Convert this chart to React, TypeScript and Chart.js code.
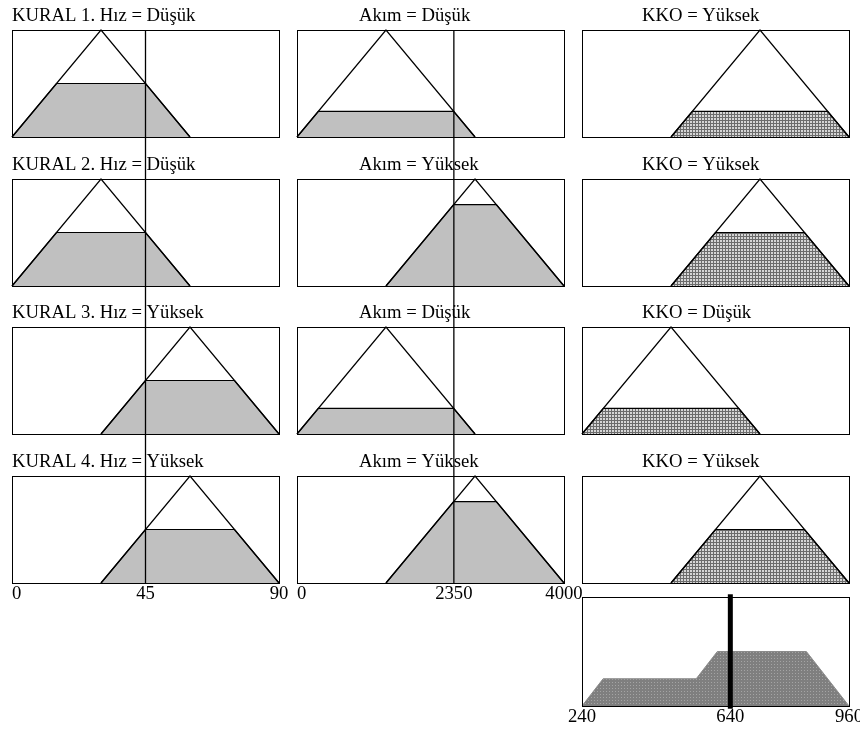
import React, { useEffect, useRef } from 'react';
import { Chart, registerables } from 'chart.js';

Chart.register(...registerables);

// ---------------- data ----------------
const hizTicks = [0, 45, 90];
const akimTicks = [0, 2350, 4000];
const kkoTicks = [240, 640, 960];

const hizRange = [0, 90];
const akimRange = [0, 4000];
const kkoRange = [240, 960];

const hizDusuk = [0, 30, 60];
const hizYuksek = [30, 60, 90];
const akimDusuk = [0, 1333, 2667];
const akimYuksek = [1333, 2667, 4000];
const kkoDusuk = [240, 480, 720];
const kkoYuksek = [480, 720, 960];

const ruleNames = ['KURAL 1.', 'KURAL 2.', 'KURAL 3.', 'KURAL 4.'];
const ruleHiz = ['Düşük', 'Düşük', 'Yüksek', 'Yüksek'];
const ruleAkim = ['Düşük', 'Yüksek', 'Düşük', 'Yüksek'];
const ruleKko = ['Yüksek', 'Yüksek', 'Düşük', 'Yüksek'];

const hizDegree = [0.5, 0.5, 0.5, 0.5];
const akimDegree = [0.24, 0.76, 0.24, 0.76];
const kkoDegree = [0.24, 0.5, 0.24, 0.5];

const hizInput = 45;
const akimInput = 2350;
const kkoCentroid = 640;

const aggX = [240, 297, 548, 605, 845, 960];
const aggY = [0, 0.25, 0.25, 0.5, 0.5, 0];

// ---------------- layout / style ----------------
const FONT_FAMILY = '"Liberation Serif", "Times New Roman", serif';
const FONT_SIZE = 18.7;
const colLeft = [12, 297, 582];
const colWidth = 267;
const rowTop = [30, 179, 327, 476];
const rowHeight = 107;
const titleDx = [0, 62, 60];
const aggTop = 597;
const aggHeight = 109;

function makePattern(cells: string[][]) {
  const c = document.createElement('canvas');
  c.width = cells[0].length;
  c.height = cells.length;
  const g = c.getContext('2d')!;
  cells.forEach((row, y) =>
    row.forEach((col, x) => {
      g.fillStyle = col;
      g.fillRect(x, y, 1, 1);
    })
  );
  return g.createPattern(c, 'repeat')!;
}

const D = '#6c6c6c';
const L = '#d6d6d6';

function tri(points: number[]) {
  return [
    { x: points[0], y: 0 },
    { x: points[1], y: 1 },
    { x: points[2], y: 0 },
  ];
}

function trap(points: number[], h: number) {
  return [
    { x: points[0], y: 0 },
    { x: points[0] + h * (points[1] - points[0]), y: h },
    { x: points[2] - h * (points[2] - points[1]), y: h },
    { x: points[2], y: 0 },
  ];
}

type CanvasProps = {
  left: number;
  top: number;
  width: number;
  height: number;
  make: () => any;
};

function ChartCanvas({ left, top, width, height, make }: CanvasProps) {
  const ref = useRef<HTMLCanvasElement>(null);
  useEffect(() => {
    const chart = new Chart(ref.current!, make());
    return () => chart.destroy();
  }, []);
  return (
    <canvas
      ref={ref}
      width={width}
      height={height}
      style={{ position: 'absolute', left, top, width, height, display: 'block' }}
    />
  );
}

function baseOptions(xr: number[], pad: any) {
  return {
    responsive: false,
    animation: false,
    events: [],
    layout: { padding: pad },
    scales: {
      x: { type: 'linear', min: xr[0], max: xr[1], display: false },
      y: { type: 'linear', min: 0, max: 1, display: false },
    },
    plugins: { legend: { display: false }, tooltip: { enabled: false }, title: { display: false } },
  };
}

function framePlugin(opts: {
  title?: string;
  titleDx?: number;
  ticks?: number[];
  tickAlign?: string[];
  border?: boolean;
}) {
  return {
    id: 'frame',
    afterDatasetsDraw(chart: any) {
      const { ctx, chartArea } = chart;
      ctx.save();
      if (opts.border) {
        ctx.strokeStyle = '#000';
        ctx.lineWidth = 1;
        ctx.strokeRect(
          Math.round(chartArea.left) + 0.5,
          Math.round(chartArea.top) + 0.5,
          Math.round(chartArea.right - chartArea.left),
          Math.round(chartArea.bottom - chartArea.top)
        );
      }
      ctx.fillStyle = '#000';
      ctx.font = `${FONT_SIZE}px ${FONT_FAMILY}`;
      ctx.textBaseline = 'alphabetic';
      if (opts.title) {
        ctx.textAlign = 'left';
        ctx.fillText(opts.title, chartArea.left + (opts.titleDx || 0), chartArea.top - 9);
      }
      if (opts.ticks) {
        const xs = chart.scales.x;
        opts.ticks.forEach((v, i) => {
          ctx.textAlign = (opts.tickAlign && opts.tickAlign[i]) || 'center';
          ctx.fillText(String(v), xs.getPixelForValue(v), chartArea.bottom + 16);
        });
      }
      ctx.restore();
    },
  };
}

const PAD = 4;
const TOPPAD = 30;

function panelConfig(xr: number[], mf: number[], level: number, fill: any, title: string, dx: number) {
  return {
    type: 'line',
    data: {
      datasets: [
        {
          data: tri(mf),
          borderColor: '#000',
          borderWidth: 1.2,
          pointRadius: 0,
          fill: false,
          order: 0,
          tension: 0,
          clip: false,
        },
        {
          data: trap(mf, level),
          borderColor: '#000',
          borderWidth: 1.2,
          backgroundColor: fill,
          pointRadius: 0,
          fill: 'origin',
          order: 1,
          tension: 0,
          clip: false,
        },
      ],
    },
    options: baseOptions(xr, { left: PAD, right: PAD, top: TOPPAD, bottom: PAD }),
    plugins: [framePlugin({ title, titleDx: dx, border: true })],
  };
}

function lineOverlayConfig(xr: number[], value: number, ticks: number[], pad: any) {
  return {
    type: 'line',
    data: {
      datasets: [
        {
          data: [
            { x: value, y: 0 },
            { x: value, y: 1 },
          ],
          borderColor: '#000',
          borderWidth: 1.3,
          pointRadius: 0,
          fill: false,
          clip: false,
        },
      ],
    },
    options: baseOptions(xr, pad),
    plugins: [framePlugin({ ticks, tickAlign: ['left', 'center', 'center'] })],
  };
}

function aggConfig() {
  const dots = makePattern([
    ['#7f7f7f', '#7f7f7f', '#7f7f7f'],
    ['#7f7f7f', '#a4a4a4', '#7f7f7f'],
    ['#7f7f7f', '#7f7f7f', '#7f7f7f'],
  ]);
  return {
    type: 'line',
    data: {
      datasets: [
        {
          data: [
            { x: kkoCentroid, y: -0.025 },
            { x: kkoCentroid, y: 1.025 },
          ],
          borderColor: '#000',
          borderWidth: 5,
          borderCapStyle: 'butt',
          pointRadius: 0,
          fill: false,
          order: 0,
          clip: false,
        },
        {
          data: aggX.map((x, i) => ({ x, y: aggY[i] })),
          borderColor: '#8a8a8a',
          borderWidth: 1,
          backgroundColor: dots,
          pointRadius: 0,
          fill: 'origin',
          order: 1,
          tension: 0,
          clip: false,
        },
      ],
    },
    options: baseOptions(kkoRange, { left: 25, right: 12, top: 6, bottom: 23 }),
    plugins: [framePlugin({ ticks: kkoTicks, border: true })],
  };
}

export default function App() {
  const panels: any[] = [];
  for (let r = 0; r < 4; r++) {
    const hizMf = ruleHiz[r] === 'Düşük' ? hizDusuk : hizYuksek;
    const akimMf = ruleAkim[r] === 'Düşük' ? akimDusuk : akimYuksek;
    const kkoMf = ruleKko[r] === 'Düşük' ? kkoDusuk : kkoYuksek;
    const specs = [
      { xr: hizRange, mf: hizMf, lv: hizDegree[r], title: `${ruleNames[r]} Hız = ${ruleHiz[r]}`, hatch: false },
      { xr: akimRange, mf: akimMf, lv: akimDegree[r], title: `Akım = ${ruleAkim[r]}`, hatch: false },
      { xr: kkoRange, mf: kkoMf, lv: kkoDegree[r], title: `KKO = ${ruleKko[r]}`, hatch: true },
    ];
    specs.forEach((s, c) => {
      panels.push(
        <ChartCanvas
          key={`p${r}${c}`}
          left={colLeft[c] - PAD}
          top={rowTop[r] - TOPPAD}
          width={colWidth + 2 * PAD}
          height={rowHeight + TOPPAD + PAD}
          make={() =>
            panelConfig(
              s.xr,
              s.mf,
              s.lv,
              s.hatch
                ? makePattern([
                    [D, D, D],
                    [D, L, L],
                    [D, L, L],
                  ])
                : '#c0c0c0',
              s.title,
              titleDx[c]
            )
          }
        />
      );
    });
  }

  const ovTop = rowTop[0] - 5;
  const ovBottom = rowTop[3] + rowHeight;
  const ovHeight = ovBottom - ovTop + 26;

  return (
    <div
      style={{
        position: 'absolute',
        left: 0,
        top: 0,
        width: 860,
        height: 729,
        background: '#fff',
        overflow: 'hidden',
      }}
    >
      {panels}
      <ChartCanvas
        key="ov0"
        left={colLeft[0] - 10}
        top={ovTop}
        width={colWidth + 10 + 14}
        height={ovHeight}
        make={() => lineOverlayConfig(hizRange, hizInput, hizTicks, { left: 10, right: 14, top: 5, bottom: 26 })}
      />
      <ChartCanvas
        key="ov1"
        left={colLeft[1] - 10}
        top={ovTop}
        width={colWidth + 10 + 20}
        height={ovHeight}
        make={() => lineOverlayConfig(akimRange, akimInput, akimTicks, { left: 10, right: 20, top: 5, bottom: 26 })}
      />
      <ChartCanvas
        key="agg"
        left={colLeft[2] - 25}
        top={aggTop - 6}
        width={colWidth + 25 + 12}
        height={aggHeight + 6 + 23}
        make={aggConfig}
      />
    </div>
  );
}
